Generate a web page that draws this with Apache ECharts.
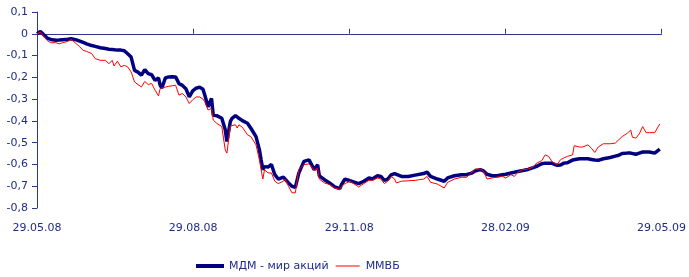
<!DOCTYPE html>
<html>
<head>
<meta charset="utf-8">
<script src="https://cdn.jsdelivr.net/npm/echarts@6/dist/echarts.min.js"></script>
<style>
    html,body{margin:0;padding:0;background:#fff;}
    #chart{width:689px;height:277px;}
</style>
</head>
<body>
<div id="chart"></div>
<script>
    // дни от 29.05.08
    var days = [0,2,3,6,8,9,11,13,15,18,
        20,23,25,27,29,32,34,37,40,42,
        44,45,47,49,50,51,53,55,57,59,
        61,63,65,67,69,71,72,73,75,77,
        79,81,83,85,87,89,91,93,95,97,
        98,100,102,103,105,106,108,110,111,113,
        114,116,117,118,120,123,125,126,128,130,
        131,132,133,135,137,139,141,144,145,147,
        149,151,153,156,159,160,162,164,165,168,
        171,174,177,178,180,183,185,188,191,194,
        196,199,201,203,205,207,209,210,213,217,
        221,226,228,230,234,238,240,244,248,251,
        254,256,257,259,261,263,266,269,272,274,
        277,279,281,284,287,288,290,292,295,297,
        299,301,304,306,308,310,313,314,317,319,
        322,324,326,328,331,335,338,340,342,345,
        347,348,350,352,354,356,358,361,364];
    var mdm = [0,0.01,0.005,-0.02,-0.026,-0.028,-0.03,-0.029,-0.027,-0.025,
        -0.023,-0.028,-0.034,-0.04,-0.046,-0.054,-0.058,-0.064,-0.068,-0.071,
        -0.072,-0.074,-0.075,-0.075,-0.073,-0.078,-0.092,-0.107,-0.168,-0.176,
        -0.19,-0.165,-0.183,-0.188,-0.214,-0.203,-0.237,-0.249,-0.203,-0.198,
        -0.197,-0.198,-0.229,-0.237,-0.252,-0.29,-0.262,-0.25,-0.245,-0.255,
        -0.28,-0.335,-0.297,-0.373,-0.376,-0.378,-0.388,-0.44,-0.495,-0.403,
        -0.388,-0.376,-0.38,-0.388,-0.399,-0.411,-0.434,-0.43,-0.472,-0.533,
        -0.58,-0.624,-0.61,-0.612,-0.6,-0.647,-0.667,-0.658,-0.652,-0.685,
        -0.7,-0.705,-0.64,-0.586,-0.579,-0.571,-0.624,-0.601,-0.652,-0.67,
        -0.685,-0.703,-0.711,-0.692,-0.667,-0.675,-0.68,-0.688,-0.677,-0.662,
        -0.667,-0.652,-0.655,-0.673,-0.667,-0.648,-0.642,-0.648,-0.655,-0.655,
        -0.649,-0.642,-0.635,-0.655,-0.667,-0.677,-0.662,-0.652,-0.647,-0.647,
        -0.64,-0.63,-0.624,-0.624,-0.63,-0.645,-0.652,-0.652,-0.647,-0.645,
        -0.639,-0.636,-0.632,-0.628,-0.623,-0.621,-0.615,-0.609,-0.597,-0.594,
        -0.594,-0.595,-0.604,-0.603,-0.594,-0.592,-0.58,-0.575,-0.574,-0.574,
        -0.574,-0.577,-0.58,-0.581,-0.574,-0.568,-0.562,-0.558,-0.55,-0.548,
        -0.548,-0.55,-0.553,-0.548,-0.543,-0.543,-0.543,-0.548,-0.53];
    var mmvb = [0,0.008,0.005,-0.031,-0.041,-0.05,-0.041,-0.046,-0.041,-0.035,
        -0.026,-0.046,-0.06,-0.076,-0.081,-0.091,-0.114,-0.122,-0.122,-0.137,
        -0.122,-0.148,-0.126,-0.152,-0.148,-0.145,-0.152,-0.175,-0.221,-0.233,
        -0.244,-0.219,-0.233,-0.228,-0.259,-0.285,-0.251,-0.259,-0.245,-0.241,
        -0.239,-0.236,-0.282,-0.274,-0.29,-0.32,-0.303,-0.29,-0.29,-0.3,
        -0.312,-0.35,-0.343,-0.396,-0.411,-0.415,-0.426,-0.533,-0.548,-0.423,
        -0.42,-0.418,-0.433,-0.418,-0.429,-0.464,-0.472,-0.48,-0.51,-0.58,
        -0.624,-0.667,-0.624,-0.639,-0.639,-0.677,-0.688,-0.677,-0.667,-0.7,
        -0.73,-0.73,-0.624,-0.601,-0.597,-0.601,-0.627,-0.617,-0.667,-0.685,
        -0.692,-0.708,-0.715,-0.7,-0.688,-0.677,-0.688,-0.703,-0.688,-0.673,
        -0.673,-0.662,-0.667,-0.688,-0.677,-0.655,-0.667,-0.685,-0.677,-0.675,
        -0.673,-0.667,-0.655,-0.682,-0.69,-0.708,-0.682,-0.667,-0.659,-0.659,
        -0.639,-0.621,-0.627,-0.621,-0.632,-0.667,-0.662,-0.658,-0.655,-0.662,
        -0.647,-0.655,-0.636,-0.624,-0.621,-0.624,-0.612,-0.594,-0.583,-0.556,
        -0.563,-0.587,-0.601,-0.578,-0.57,-0.563,-0.556,-0.514,-0.52,-0.52,
        -0.51,-0.525,-0.545,-0.52,-0.505,-0.505,-0.502,-0.487,-0.472,-0.457,
        -0.442,-0.475,-0.479,-0.46,-0.426,-0.454,-0.454,-0.454,-0.414];
    var dateLabels = ['29.05.08','29.08.08','29.11.08','28.02.09','29.05.09'];
    var seriesNames = ['МДМ - мир акций','ММВБ'];

    var txtColor = '#1f2c84';
    var axisColor = '#2b3990';
    var fontFam = '"DejaVu Sans", Verdana, sans-serif';
    var step = 365 / 4;

    function pairs(vals){
        return days.map(function(d, i){ return [d, vals[i]]; });
    }

    var chart = echarts.init(document.getElementById('chart'), null, {renderer:'canvas'});
    var option = {
        animation:false,
        backgroundColor:'#fff',
        grid:{left:37, right:24, top:12, bottom:69, containLabel:false},
        legend:{
            left:196,
            top:259,
            padding:0,
            itemWidth:28,
            itemHeight:14,
            itemGap:5,
            textStyle:{color:txtColor, fontSize:11, fontFamily:fontFam},
            data:[
                // линии-иконки: толстая синяя и тонкая красная
                {name:seriesNames[0], icon:'path://M0,0h1v0.01h-1z M0,5h28v4h-28z M0,13.99h1v0.01h-1z'},
                {name:seriesNames[1], icon:'path://M0,0h1v0.01h-1z M2,6.5h24v1h-24z M0,13.99h1v0.01h-1z'}
            ]
        },
        xAxis:[
            {
                // подписи дат снизу
                type:'value', min:0, max:365, interval:step,
                position:'bottom',
                axisLine:{show:false, onZero:false},
                axisTick:{show:false},
                splitLine:{show:false},
                axisLabel:{
                    color:txtColor, fontSize:11, fontFamily:fontFam, margin:15,
                    formatter:function(v){ return dateLabels[Math.round(v / step)] || ''; }
                }
            },
            {
                // линия нуля с засечками
                type:'value', min:0, max:365, interval:step,
                position:'bottom',
                axisLine:{show:true, onZero:true, lineStyle:{color:axisColor, width:1}},
                axisTick:{show:true, inside:true, length:5, lineStyle:{color:axisColor}},
                splitLine:{show:false},
                axisLabel:{show:false}
            }
        ],
        yAxis:{
            type:'value', min:-0.8, max:0.1, interval:0.1,
            axisLine:{show:true, onZero:false, lineStyle:{color:axisColor, width:1}},
            axisTick:{show:true, length:5, lineStyle:{color:axisColor}},
            splitLine:{show:false},
            axisLabel:{
                color:txtColor, fontSize:11, fontFamily:fontFam, margin:9,
                formatter:function(v){
                    if (Math.abs(v) < 1e-9) return '0';
                    return v.toFixed(1).replace('.', ',');
                }
            }
        },
        series:[
            {
                name:seriesNames[0], type:'line', xAxisIndex:0,
                data:pairs(mdm), symbol:'none', z:3,
                lineStyle:{color:'#000080', width:3.5},
                itemStyle:{color:'#000080'}
            },
            {
                name:seriesNames[1], type:'line', xAxisIndex:0,
                data:pairs(mmvb), symbol:'none', z:4,
                lineStyle:{color:'#ff0000', width:1},
                itemStyle:{color:'#ff0000'}
            }
        ]
    };
    chart.setOption(option);
</script>
</body>
</html>
